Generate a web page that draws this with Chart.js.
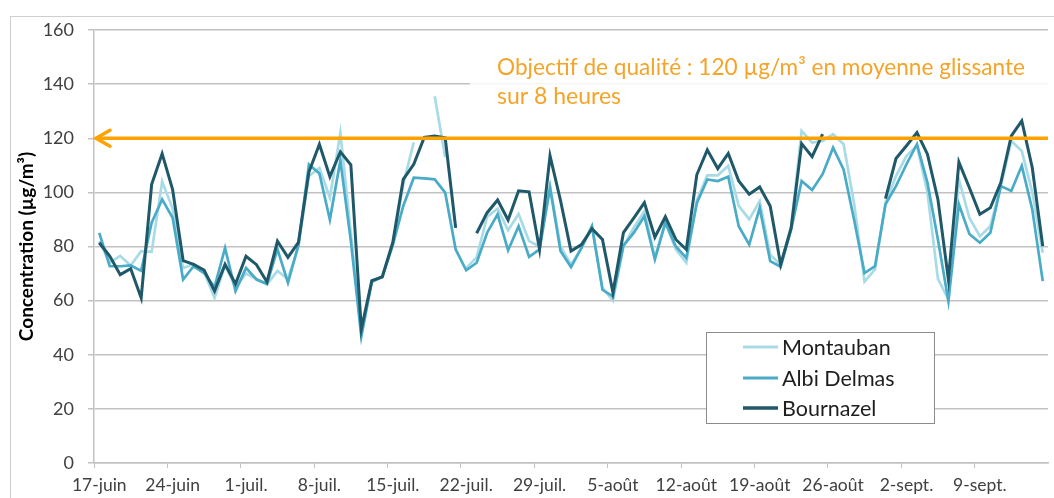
<!DOCTYPE html>
<html>
<head>
<meta charset="utf-8">
<script src="https://cdn.jsdelivr.net/npm/chart.js@4.4.0/dist/chart.umd.min.js"></script>
<style>
  html, body { margin: 0; padding: 0; background: #fff; }
  #wrap { position: relative; width: 1054px; height: 498px; overflow: hidden; }
  #frame { position: absolute; left: 10px; top: 16px; width: 1100px; height: 600px;
           border: 1.5px solid #cfcfcf; pointer-events: none; }
</style>
</head>
<body>
<div id="wrap">
  <canvas id="chart" width="1054" height="498"></canvas>
  <div id="frame"></div>
</div>
<script>
// ------- Data -------
const monthNames = ['juin', 'juil.', 'août', 'sept.'];
const monthLengths = [30, 31, 31, 30];
const firstDay = 17;
const dayCount = 91;

const seriesNames = ['Montauban', 'Albi Delmas', 'Bournazel'];
const seriesColors = ['#a9dbe6', '#4aabc6', '#1f5868'];

const montauban = [
  82, 74, 76.5, 73, 78.3, 78, 104, 94, 72, 73.5,
  70.5, 61, 73, 65, 70, 68, 66, 71, 68, 80,
  106, 109, 98, 122, 85, 47.5, 67, 69, 80.5, 103,
  118.5, null, 135.5, 113, null, 72, 76, 91, 94, 86,
  92, 82, 80, 102.5, 80, 73.3, 79.5, 87.5, 64.7, 60,
  80, 87, 93, 76, 89, 79, 74, 97, 106.3, 106.3,
  109.8, 95, 90, 96.8, 77, 73.3, 87.5, 122.7, 118.4, 119,
  121.5, 117.8, 96, 67, 71.5, 96.2, 106, 113.5, 117.2, 100,
  68, 60.4, 104.8, 90.6, 83.8, 87.5, 102.3, 119, 115.3, 100,
  77.7
];
const albiDelmas = [
  85, 72.7, 72.7, 73, 71, 88.8, 97.4, 90.6, 67.8, 72.7,
  70.2, 65, 79.5, 63.5, 72.1, 67.8, 66.2, 79, 66.6, 80.5,
  110.3, 107, 89.9, 111.8, 82, 46.8, 67, 68.7, 80.5, 95,
  105.4, 105.2, 104.8, 99.9, 78.9, 71.2, 74, 85.1, 91.9, 78.6,
  87.5, 76.2, 78.9, 101.7, 78.3, 72.4, 79.5, 87.5, 64, 61.6,
  80.3, 85.1, 91.2, 75.2, 88.8, 80, 75.8, 96, 104.8, 104.2,
  105.8, 87.5, 80.7, 94.3, 74.6, 72.5, 86.3, 104.2, 100.9, 106.7,
  116.5, 108.5, 90, 70.2, 72.7, 95.6, 102.3, 110.4, 117.8, 103.6,
  82.6, 59.8, 95.6, 84.6, 81.4, 85.1, 102.3, 100.5, 109.8, 93.7,
  67.2
];
const bournazel = [
  81.4, 76.5, 69.6, 71.8, 61, 103, 114.3, 101, 74.8, 73.4,
  71.3, 63.5, 73.4, 66.2, 76.4, 73.3, 66.9, 82, 76, 81.5,
  107.5, 117.8, 105.8, 115, 110.2, 49.5, 67.4, 68.8, 81.5, 104.8,
  110.4, 120.3, 120.8, 120.2, 86.9, null, 84.9, 92.5, 97.2, 89.8,
  100.6, 100.2, 78.9, 113.5, 97, 78.3, 80.7, 86.6, 82.6, 63,
  85.1, 90.6, 96.2, 83.4, 91, 82.6, 78.9, 106.5, 115.7, 108.8,
  114.4, 104.2, 99.3, 102, 95, 73.3, 86.9, 118, 113.2, 121.5,
  null, null, null, null, null, 97.7, 112.5, 117.2, 122.1, 114.1,
  97.4, 67.8, 111.2, 101.7, 91.9, 94.3, 103.6, 120.9, 126.4, 109.1,
  80.1
];

const qualityTarget = 120;
const targetText = ['Objectif de qualité : 120 µg/m³ en moyenne glissante', 'sur 8 heures'];
const yTicks = { min: 0, max: 160, step: 20 };

// build day labels (17-juin ... 15-sept.)
const categories = [];
let m = 0, d = firstDay;
for (let i = 0; i < dayCount; i++) {
  categories.push(d + '-' + monthNames[m]);
  d++;
  if (d > monthLengths[m]) { d = 1; m++; }
}

const FONT = 'Lato, "Open Sans", sans-serif';
const GRID = '#c2c2c2';

// ------- Overlay: target line, note, legend -------
const overlay = {
  id: 'overlay',
  afterDatasetsDraw(chart) {
    const { ctx, chartArea: a, scales } = chart;
    const yT = scales.y.getPixelForValue(qualityTarget);
    ctx.save();

    // note box + text
    ctx.fillStyle = 'rgba(255,255,255,0.85)';
    ctx.fillRect(470, 46, a.right - 470, 64);
    ctx.fillStyle = '#f5a42a';
    ctx.font = '23px ' + FONT;
    ctx.textBaseline = 'middle';
    ctx.fillText(targetText[0], 497, 68, 528);
    ctx.fillText(targetText[1], 497, 97);

    // target line with arrow
    ctx.strokeStyle = '#ffa200';
    ctx.lineWidth = 3.5;
    ctx.beginPath();
    ctx.moveTo(a.left + 2, yT);
    ctx.lineTo(a.right, yT);
    ctx.stroke();
    ctx.lineCap = 'round';
    ctx.beginPath();
    ctx.moveTo(a.left + 16, yT - 8);
    ctx.lineTo(a.left + 2, yT);
    ctx.lineTo(a.left + 16, yT + 8);
    ctx.stroke();

    // legend
    ctx.lineCap = 'butt';
    ctx.fillStyle = '#fff';
    ctx.fillRect(706, 332, 228, 91);
    ctx.strokeStyle = '#8c8c8c';
    ctx.lineWidth = 1;
    ctx.strokeRect(706.5, 332.5, 228, 91);
    const rows = [347, 378, 408];
    ctx.font = '21.5px ' + FONT;
    seriesNames.forEach((name, i) => {
      ctx.strokeStyle = seriesColors[i];
      ctx.lineWidth = i === 2 ? 3.5 : 3;
      ctx.beginPath();
      ctx.moveTo(743, rows[i]);
      ctx.lineTo(778, rows[i]);
      ctx.stroke();
      ctx.fillStyle = '#1e1e1e';
      ctx.fillText(name, 782, rows[i] + 1);
    });
    ctx.restore();
  }
};

const seriesData = [montauban, albiDelmas, bournazel];

new Chart(document.getElementById('chart'), {
  type: 'line',
  data: {
    labels: categories,
    datasets: seriesData.map((vals, i) => ({
      label: seriesNames[i],
      data: vals,
      borderColor: seriesColors[i],
      backgroundColor: seriesColors[i],
      borderWidth: i === 2 ? 3 : 2.7,
      pointRadius: 0,
      tension: 0,
      spanGaps: false,
      order: 2 - i
    }))
  },
  options: {
    responsive: false,
    animation: false,
    layout: { padding: { left: 0, right: 6, top: 30, bottom: 0 } },
    plugins: { legend: { display: false }, tooltip: { enabled: false } },
    scales: {
      x: {
        offset: true,
        afterFit: s => { s.height = 35; },
        grid: {
          offset: true,
          drawOnChartArea: false,
          tickLength: 5,
          color: c => (c.index % 7 === 0 ? GRID : 'rgba(0,0,0,0)')
        },
        border: { color: GRID, width: 1.5 },
        ticks: {
          autoSkip: false,
          maxRotation: 0,
          padding: 7,
          color: '#404040',
          font: { family: FONT, size: 17.5 },
          callback: function (val, idx) {
            return idx % 7 === 0 ? this.getLabelForValue(val) : '';
          }
        }
      },
      y: {
        min: yTicks.min,
        max: yTicks.max,
        afterFit: s => { s.width = 94; },
        grid: { color: GRID, lineWidth: 1.5, tickLength: 6 },
        border: { color: GRID, width: 1.5 },
        ticks: {
          stepSize: yTicks.step,
          padding: 14,
          color: '#404040',
          font: { family: FONT, size: 18 }
        },
        title: {
          display: true,
          text: 'Concentration (µg/m³)',
          color: '#000',
          font: { family: FONT, size: 19, weight: 'bold' },
          padding: { top: 15, bottom: 0 }
        }
      }
    }
  },
  plugins: [overlay]
});
</script>
</body>
</html>
